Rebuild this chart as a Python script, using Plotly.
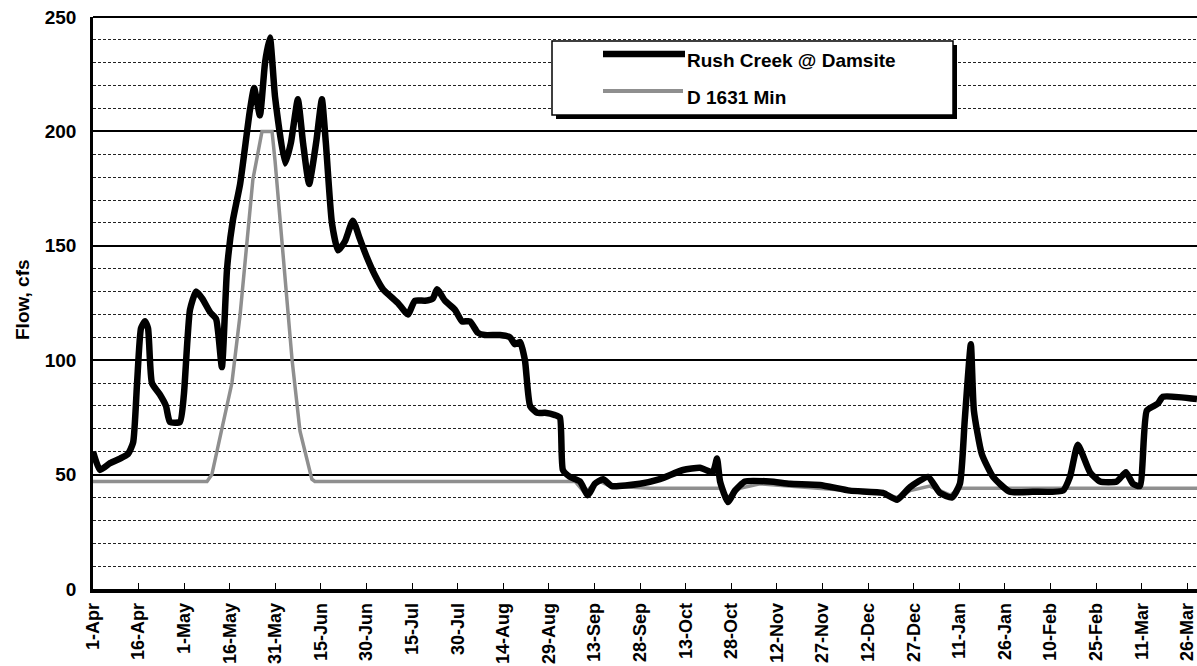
import pandas as pd
import plotly.graph_objects as go

# Water year starting 1 April (leap February at the end)
START = pd.Timestamp("2003-04-01")

# Rush Creek @ Damsite: day offset from 1-Apr and daily flow (cfs)
rush_days = [0, 2.3, 5.6, 8.9, 11.5, 13.2, 14.5, 15.8, 17.1, 18.1, 19.4, 22, 24, 25.3,
             28.6, 29.9, 31.9, 33.9, 35.9, 38.5, 40.5, 42.4, 44.1, 46, 48.4, 51.6, 53,
             54.9, 56.6, 58.2, 59.9, 63.2, 65.1, 67.4, 69.1, 71.1, 73.4, 75.3, 76.6,
             78.6, 80.6, 82.9, 85.5, 87.8, 90.1, 92.8, 95.4, 100.3, 103.6, 105.9, 109.2,
             111.8, 113.2, 115.8, 119.1, 121.4, 124, 126.6, 128.9, 133.9, 137.2, 138.8,
             140.5, 142.1, 143.8, 146.1, 148.7, 152, 153.6, 154.6, 156.9, 160.2, 162.8,
             165.1, 167.8, 170.7, 179.9, 186.5, 194.1, 199.7, 203.9, 205.3, 206.3, 208.9,
             211.2, 214.5, 222.7, 229.3, 239.1, 249, 259.9, 264.5, 268.8, 274.7, 278.6,
             282.6, 285.2, 286.8, 288.8, 289.8, 292.4, 296.1, 301.6, 309.2, 319.1, 321.4,
             324, 328, 331.3, 336.8, 339.8, 342.1, 344.4, 346.7, 350.3, 352, 363.2]
rush_flow = [60, 52, 55, 57, 59, 64, 90, 114, 117, 114, 90, 85, 80, 73,
             73, 85, 122, 130, 127, 121, 118, 97, 140, 161, 177, 209, 219,
             207, 230, 241, 215, 186, 195, 214, 195, 177, 195, 214, 195,
             160, 148, 152, 161, 153, 145, 137, 131, 125, 120, 126, 126,
             127, 131, 126, 122, 117, 117, 112, 111, 111, 110, 107,
             108, 100, 80, 77, 77, 76, 75, 52, 49, 47, 41,
             46, 48, 45, 46, 48, 52, 53, 51, 57, 47, 38,
             43, 47, 47, 46, 45.5, 43, 42, 39, 44.5, 49, 42,
             40, 46, 74, 107, 78, 59, 49, 42.5, 42.5, 43, 49,
             63, 51, 47, 47, 51, 46, 45, 78, 81, 84, 83]

# D 1631 minimum flow requirement
d1631_days = [0, 37.5, 39.1, 42.4, 45.7, 48.4, 50.7, 52.6, 55.6, 58.9, 59.9, 63.8, 65.5,
              68.1, 72, 73, 155, 158.6, 161.8, 164.1, 166.8, 170, 183.2, 186.5, 206.3,
              208.9, 212.8, 219.4, 229.3, 239, 249, 259, 264.5, 268.8, 275.3, 282,
              285.2, 363.2]
d1631_flow = [47, 47, 50, 70, 90, 120, 152, 179, 200, 200, 187, 129, 100,
              69, 48, 47, 47, 47, 42, 45, 47, 45, 44, 44, 44,
              40, 44, 46, 45, 44, 43, 42, 40, 43, 45, 41,
              44, 44]

Y_TICKS = [0, 50, 100, 150, 200, 250]


def to_dates(days):
    return [START + pd.Timedelta(days=d) for d in days]


FONT = "Liberation Sans, Arial, sans-serif"

fig = go.Figure()
fig.add_trace(go.Scatter(
    x=to_dates(d1631_days), y=d1631_flow, mode="lines", name="D 1631 Min",
    line=dict(color="#8f8f8f", width=3.5), showlegend=False))
fig.add_trace(go.Scatter(
    x=to_dates(rush_days), y=rush_flow, mode="lines", name="Rush Creek @ Damsite",
    line=dict(color="black", width=6.5, shape="spline", smoothing=0.5),
    showlegend=False))

x_end = START + pd.Timedelta(days=363.2)

fig.update_xaxes(
    type="date", range=[START, x_end], automargin=False,
    tick0=START, dtick=15 * 86400000, tickformat="%-d-%b", tickangle=-90,
    ticks="inside", ticklen=6, tickcolor="black", tickwidth=1,
    showline=True, linecolor="black", linewidth=3.5, showgrid=False,
    tickfont=dict(family=FONT, size=18, color="black", weight="bold"),
    ticklabelstandoff=3, ticklabeloverflow="allow",
)
fig.update_yaxes(
    range=[0, 250], tickvals=Y_TICKS, automargin=False,
    showline=True, linecolor="black", linewidth=2.5,
    showgrid=True, gridcolor="black", gridwidth=1.5,
    minor=dict(dtick=10, showgrid=True, gridcolor="#222222", gridwidth=1,
               griddash="3px,2px"),
    zeroline=False, ticks="",
    tickfont=dict(family=FONT, size=19, color="black", weight="bold"),
    ticklabelstandoff=10,
)

W, H = 1197, 666
L, R, T, B = 93, 0, 17, 77
pw, ph = W - L - R, H - T - B


def px(xp):
    return (xp - L) / pw


def py(yp):
    return (H - B - yp) / ph


shapes = [
    # plot frame top edge
    dict(type="line", xref="paper", yref="paper", x0=0, x1=1, y0=1, y1=1,
         line=dict(color="black", width=2)),
    # legend box shadow and frame
    dict(type="rect", xref="paper", yref="paper",
         x0=px(556), x1=px(957), y0=py(119), y1=py(45),
         fillcolor="black", line=dict(width=0)),
    dict(type="rect", xref="paper", yref="paper",
         x0=px(552), x1=px(953), y0=py(115), y1=py(41),
         fillcolor="white", line=dict(color="black", width=1.5)),
    # legend line samples
    dict(type="line", xref="paper", yref="paper", x0=px(603), x1=px(685),
         y0=py(54), y1=py(54), line=dict(color="black", width=6.5)),
    dict(type="line", xref="paper", yref="paper", x0=px(603), x1=px(683),
         y0=py(91), y1=py(91), line=dict(color="#8f8f8f", width=4)),
]

annotations = [
    dict(text="Rush Creek @ Damsite", xref="paper", yref="paper", x=px(685), y=py(61),
         xanchor="left", yanchor="middle", showarrow=False,
         font=dict(family=FONT, size=19, color="black", weight="bold")),
    dict(text="D 1631 Min", xref="paper", yref="paper", x=px(685), y=py(98),
         xanchor="left", yanchor="middle", showarrow=False,
         font=dict(family=FONT, size=19, color="black", weight="bold")),
    dict(text="Flow, cfs", xref="paper", yref="paper", x=px(22), y=py(300),
         xanchor="center", yanchor="middle", textangle=-90, showarrow=False,
         font=dict(family=FONT, size=19, color="black", weight="bold")),
]

fig.update_layout(
    width=W, height=H,
    margin=dict(l=L, r=R, t=T, b=B),
    paper_bgcolor="white", plot_bgcolor="white",
    shapes=shapes, annotations=annotations,
    showlegend=False,
)

fig.write_html("out.html")
